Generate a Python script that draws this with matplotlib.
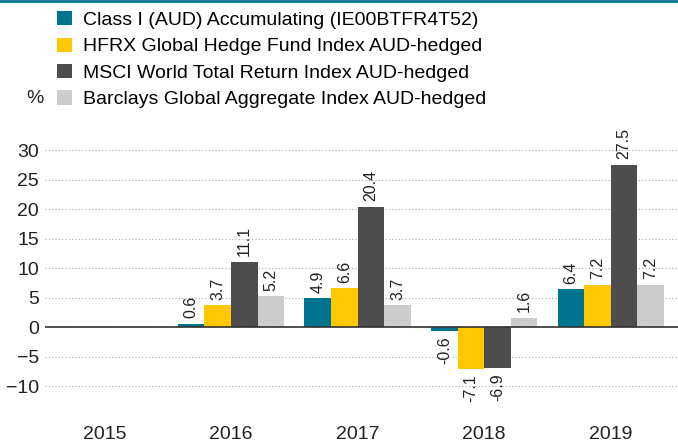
import numpy as np
import matplotlib.pyplot as plt
from matplotlib.patches import Patch
from matplotlib.lines import Line2D

plt.rcParams['font.family'] = ['Liberation Sans', 'DejaVu Sans']

# данные
years = ['2015', '2016', '2017', '2018', '2019']
series_names = [
    'Class I (AUD) Accumulating (IE00BTFR4T52)',
    'HFRX Global Hedge Fund Index AUD-hedged',
    'MSCI World Total Return Index AUD-hedged',
    'Barclays Global Aggregate Index AUD-hedged',
]
fund = [np.nan, 0.6, 4.9, -0.6, 6.4]
hfrx = [np.nan, 3.7, 6.6, -7.1, 7.2]
msci = [np.nan, 11.1, 20.4, -6.9, 27.5]
barclays = [np.nan, 5.2, 3.7, 1.6, 7.2]
colors = ['#00738f', '#ffc800', '#4d4d4d', '#cccccc']

fig = plt.figure(figsize=(6.78, 4.43), dpi=100)
ax = fig.add_axes([0.066, 0.075, 0.934, 0.626])

x = np.arange(len(years))
w = 0.21
all_series = [fund, hfrx, msci, barclays]
for i, (vals, col) in enumerate(zip(all_series, colors)):
    pos = x + (i - 1.5) * w
    ax.bar(pos, vals, width=w, color=col, zorder=3)
    for p, v in zip(pos, vals):
        if np.isnan(v):
            continue
        if v >= 0:
            ax.annotate(f'{v:.1f}', (p, v), xytext=(0, 4), textcoords='offset points',
                        rotation=90, ha='center', va='bottom', fontsize=11.5, color='#222222')
        else:
            ax.annotate(f'{v:.1f}', (p, v), xytext=(0, -4), textcoords='offset points',
                        rotation=90, ha='center', va='top', fontsize=11.5, color='#222222')

ax.set_xlim(-0.47, 4.53)
ax.set_ylim(-14, 33)
ax.set_yticks(range(-10, 31, 5))
ax.set_xticks(x)
ax.set_xticklabels(years)
ax.tick_params(axis='both', length=0, labelsize=14, colors='#222222')
ax.tick_params(axis='y', pad=4)
ax.tick_params(axis='x', pad=12)
for s in ax.spines.values():
    s.set_visible(False)
ax.grid(axis='y', linestyle=(0, (1, 2)), color='#aaaaaa', linewidth=0.8, zorder=0)
ax.axhline(0, color='#333333', linewidth=1.2, zorder=4)

handles = [Patch(facecolor=c, edgecolor='none') for c in colors]
fig.legend(handles, series_names, loc='upper left', bbox_to_anchor=(0.084, 0.975),
           frameon=False, fontsize=14, handlelength=0.75, handleheight=0.75,
           handletextpad=0.6, labelspacing=0.44, borderaxespad=0, borderpad=0)
fig.text(0.052, 0.778, '%', fontsize=14, color='#222222', ha='center', va='center')

# тонкая линия сверху
fig.add_artist(Line2D([0, 1], [0.998, 0.998], transform=fig.transFigure,
                      color='#00738f', linewidth=2))

fig.savefig('out.png', dpi=100)
